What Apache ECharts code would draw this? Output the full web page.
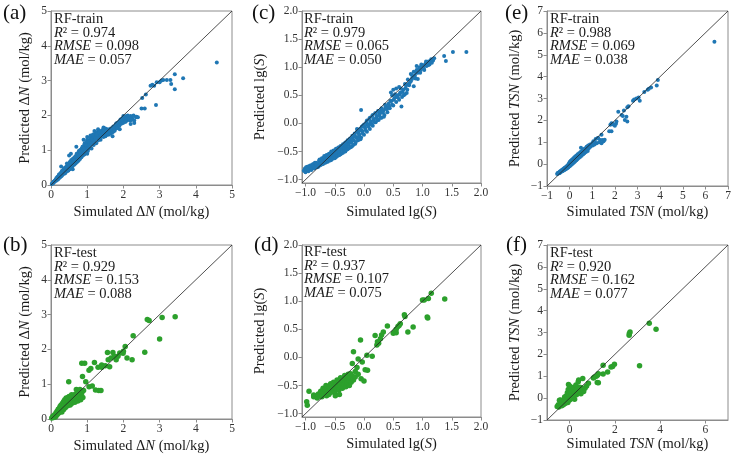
<!DOCTYPE html>
<html>
<head>
<meta charset="utf-8">
<script src="https://cdn.jsdelivr.net/npm/echarts@6/dist/echarts.min.js"></script>
<style>
  html, body { margin: 0; padding: 0; background: #fff; }
  #chart { width: 734px; height: 461px; }
</style>
</head>
<body>
<div id="chart"></div>
<script>
// ---- data (simulated, predicted) ----
const trainDN = [
  [0.02,0.03],[0.04,0.05],[0.06,0.05],[0.07,0.09],[0.08,0.1],[0.1,0.09],[0.11,0.13],[0.12,0.14],[0.14,0.12],[0.15,0.2],[0.16,0.17],[0.17,0.15],
  [0.18,0.24],[0.19,0.2],[0.2,0.18],[0.21,0.23],[0.22,0.26],[0.23,0.2],[0.24,0.28],[0.25,0.3],[0.26,0.23],[0.27,0.31],[0.28,0.35],[0.28,0.53],
  [0.3,0.27],[0.3,0.4],[0.31,0.33],[0.32,0.3],[0.33,0.36],[0.34,0.38],[0.35,0.45],[0.36,0.32],[0.37,0.4],[0.38,0.42],[0.39,0.37],[0.4,0.36],
  [0.4,0.5],[0.41,0.43],[0.42,0.46],[0.43,0.52],[0.44,0.4],[0.45,0.55],[0.46,0.45],[0.47,0.48],[0.48,0.42],[0.49,0.58],[0.5,0.6],[0.5,0.5],
  [0.5,0.85],[0.51,0.47],[0.52,0.45],[0.53,0.63],[0.54,0.56],[0.55,0.68],[0.55,0.9],[0.56,0.52],[0.57,0.5],[0.58,0.62],[0.59,0.58],[0.6,0.55],
  [0.6,0.72],[0.6,0.45],[0.61,0.64],[0.62,0.66],[0.63,0.75],[0.64,0.58],[0.65,0.78],[0.66,0.62],[0.67,0.7],[0.68,0.62],[0.69,0.8],[0.7,0.85],
  [0.7,0.75],[0.7,1.1],[0.71,0.68],[0.72,0.66],[0.73,0.88],[0.74,0.8],[0.75,0.92],[0.76,0.7],[0.77,0.78],[0.78,0.85],[0.79,0.95],[0.8,0.75],
  [0.8,1.0],[0.81,0.82],[0.82,0.9],[0.83,1.02],[0.84,0.8],[0.85,1.05],[0.86,0.88],[0.87,0.95],[0.88,0.85],[0.89,1.08],[0.9,1.12],[0.9,1.0],
  [0.9,1.3],[0.91,0.92],[0.92,0.88],[0.94,1.15],[0.95,1.05],[0.96,1.2],[0.97,0.95],[0.98,1.08],[1.0,1.1],[1.0,1.3],[1.0,1.38],[1.0,0.9],
  [1.02,0.98],[1.03,1.18],[1.05,1.2],[1.06,1.05],[1.07,1.28],[1.08,1.35],[1.1,1.15],[1.11,1.25],[1.12,1.05],[1.14,1.32],[1.15,1.25],[1.15,1.4],
  [1.17,1.2],[1.18,1.15],[1.2,1.3],[1.2,1.55],[1.21,1.4],[1.22,1.48],[1.24,1.35],[1.25,1.2],[1.27,1.38],[1.28,1.52],[1.3,1.5],[1.3,1.28],
  [1.3,1.6],[1.32,1.35],[1.33,1.42],[1.35,1.55],[1.36,1.48],[1.37,1.3],[1.39,1.4],[1.4,1.45],[1.42,1.58],[1.43,1.5],[1.45,1.38],[1.45,1.65],
  [1.47,1.45],[1.48,1.5],[1.5,1.62],[1.5,1.4],[1.52,1.42],[1.54,1.55],[1.55,1.5],[1.57,1.6],[1.58,1.45],[1.6,1.45],[1.61,1.52],[1.62,1.55],
  [1.64,1.48],[1.65,1.62],[1.67,1.56],[1.68,1.5],[1.7,1.58],[1.7,1.4],[1.72,1.68],[1.73,1.55],[1.75,1.6],[1.77,1.65],[1.78,1.7],[1.8,1.62],
  [1.81,1.72],[1.82,1.78],[1.84,1.66],[1.85,1.7],[1.87,1.76],[1.88,1.82],[1.9,1.75],[1.9,1.6],[1.92,1.88],[1.93,1.8],[1.95,1.8],[1.96,1.9],
  [1.98,1.92],[2.0,1.85],[2.0,1.98],[2.02,1.95],[2.04,1.82],[2.05,1.88],[2.07,1.93],[2.08,1.98],[2.1,1.85],[2.12,2.0],[2.13,1.9],[2.15,1.92],
  [2.18,1.85],[2.2,1.98],[2.2,1.75],[2.23,1.95],[2.25,1.9],[2.28,2.0],[2.3,1.85],[2.3,1.78],[2.35,1.95],[2.36,1.96],[2.4,1.95],[2.5,2.2],
  [2.52,2.5],[2.59,2.2],[2.62,2.6],[2.75,2.85],[2.8,2.88],[2.85,2.85],[2.9,2.3],[2.92,2.95],[3.0,2.95],[3.05,3.0],[3.1,3.02],[3.2,3.02],
  [3.3,3.02],[3.32,2.9],[3.42,3.18],[3.42,2.75],[3.65,3.07],[4.58,3.52],
  [0.13,0.16],[0.19,0.16],[0.22,0.3],[0.26,0.34],[0.29,0.26],[0.33,0.42],[0.36,0.48],[0.39,0.34],[0.42,0.52],[0.44,0.62],[0.46,0.41],
  [0.48,0.54],[0.52,0.66],[0.54,0.49],[0.56,0.72],[0.58,0.54],[0.61,0.76],[0.63,0.6],[0.65,0.7],[0.67,0.82],[0.69,0.66],[0.71,0.9],
  [0.73,0.72],[0.75,0.84],[0.77,0.98],[0.79,0.76],[0.81,0.95],[0.83,0.86],[0.85,0.98],[0.87,1.1],[0.89,0.9],[0.91,1.05],[0.93,1.2],
  [0.95,0.98],[0.97,1.15],[0.99,1.25],[1.01,1.05],[1.04,1.25],[1.06,1.15],[1.09,1.42],[1.11,1.2],[1.13,1.3],[1.16,1.45],[1.19,1.25],
  [1.23,1.35],[1.26,1.45],[1.29,1.35],[1.34,1.5],[1.38,1.45],[1.41,1.52],[1.44,1.44],[1.46,1.56],[1.49,1.42],[1.53,1.58],[1.56,1.48],
  [1.59,1.58],[1.63,1.5],[1.66,1.58],[1.69,1.62],[1.71,1.52],[1.74,1.64],[1.76,1.56],[1.79,1.75],[1.83,1.64],[1.86,1.78],[1.89,1.7],
  [1.91,1.84],[1.94,1.76],[1.97,1.86],[1.99,1.78],[2.03,1.9],[2.06,1.82],[2.09,1.92],[2.14,1.97],[2.17,1.9],[2.22,1.87]
];
const testDN = [
  [0.02,0.03],[0.05,0.08],[0.07,0.04],[0.1,0.12],[0.12,0.06],[0.14,0.18],[0.15,0.1],[0.17,0.22],[0.18,0.14],[0.2,0.28],[0.21,0.17],[0.23,0.3],
  [0.24,0.2],[0.25,0.36],[0.27,0.25],[0.28,0.4],[0.3,0.3],[0.3,0.2],[0.32,0.45],[0.33,0.35],[0.35,0.27],[0.35,0.5],[0.37,0.4],[0.38,0.55],
  [0.4,0.33],[0.4,0.48],[0.42,0.6],[0.43,0.42],[0.45,0.55],[0.46,0.38],[0.47,0.62],[0.48,0.5],[0.49,1.07],[0.5,0.45],[0.5,0.65],[0.52,0.56],
  [0.53,0.4],[0.55,0.62],[0.56,0.5],[0.57,0.7],[0.58,0.45],[0.6,0.6],[0.6,0.52],[0.62,0.68],[0.63,0.55],[0.65,0.62],[0.66,0.48],[0.68,0.72],
  [0.7,0.58],[0.7,0.85],[0.72,0.65],[0.74,0.52],[0.75,0.8],[0.77,0.62],[0.8,0.72],[0.8,0.85],[0.82,0.55],[0.85,0.75],[0.85,1.6],[0.87,1.22],
  [0.88,0.62],[0.9,0.82],[0.93,1.6],[0.96,1.07],[1.05,0.93],[1.05,1.4],[1.1,1.45],[1.14,0.95],[1.2,1.62],[1.23,0.83],[1.32,0.82],[1.38,0.82],
  [1.3,1.49],[1.4,1.49],[1.4,1.55],[1.5,1.53],[1.56,1.91],[1.58,1.7],[1.62,1.5],[1.66,1.75],[1.71,1.91],[1.75,1.8],[1.8,1.7],[1.85,1.8],
  [1.9,1.9],[1.99,1.89],[2.0,1.95],[2.05,2.08],[2.1,1.75],[2.24,1.7],[2.27,2.39],[2.59,1.92],[2.66,2.86],[2.71,2.83],[3.0,2.3],[3.07,2.92],
  [3.43,2.94]
];
const trainS = [
  [-1.03,-0.84],[-1.01,-0.8],[-1.0,-0.87],[-0.98,-0.82],[-0.97,-0.77],[-0.95,-0.85],[-0.93,-0.8],[-0.92,-0.75],[-0.9,-0.83],[-0.88,-0.78],
  [-0.87,-0.72],[-0.85,-0.8],[-0.83,-0.75],[-0.82,-0.7],[-0.8,-0.78],[-0.79,-0.72],[-0.77,-0.67],[-0.76,-0.75],[-0.75,-0.7],[-0.74,-0.66],
  [-0.73,-0.64],[-0.72,-0.72],[-0.71,-0.68],[-0.7,-0.67],[-0.69,-0.61],[-0.68,-0.7],[-0.67,-0.63],[-0.66,-0.64],[-0.65,-0.58],[-0.64,-0.68],
  [-0.63,-0.6],[-0.62,-0.62],[-0.61,-0.56],[-0.6,-0.66],[-0.59,-0.61],[-0.58,-0.6],[-0.57,-0.53],[-0.56,-0.65],[-0.55,-0.58],[-0.54,-0.55],
  [-0.53,-0.51],[-0.52,-0.62],[-0.51,-0.57],[-0.5,-0.55],[-0.49,-0.48],[-0.48,-0.6],[-0.47,-0.52],[-0.46,-0.53],[-0.45,-0.45],[-0.44,-0.57],
  [-0.43,-0.49],[-0.42,-0.5],[-0.41,-0.42],[-0.4,-0.55],[-0.39,-0.45],[-0.38,-0.47],[-0.37,-0.4],[-0.36,-0.52],[-0.35,-0.43],[-0.34,-0.44],
  [-0.33,-0.36],[-0.32,-0.5],[-0.31,-0.4],[-0.3,-0.41],[-0.29,-0.33],[-0.28,-0.46],[-0.27,-0.36],[-0.26,-0.38],[-0.25,-0.29],[-0.24,-0.43],
  [-0.23,-0.32],[-0.22,-0.34],[-0.2,-0.25],[-0.2,-0.4],[-0.19,-0.3],[-0.18,-0.3],[-0.16,-0.2],[-0.15,-0.36],[-0.14,-0.24],[-0.13,-0.26],
  [-0.12,-0.15],[-0.1,-0.3],[-0.09,-0.18],[-0.08,-0.2],[-0.07,-0.1],[-0.05,-0.25],[-0.05,0.24],[-0.04,-0.12],[-0.03,-0.14],[-0.02,-0.04],
  [0.0,-0.2],[0.01,-0.06],[0.02,-0.08],[0.04,0.02],[0.05,-0.15],[0.06,-0.03],[0.07,-0.02],[0.09,0.08],[0.1,-0.1],[0.11,0.01],[0.12,0.03],
  [0.14,0.13],[0.15,-0.04],[0.16,0.06],[0.17,0.08],[0.19,0.18],[0.2,0.02],[0.21,0.1],[0.22,0.13],[0.24,0.22],[0.25,0.06],[0.26,0.14],
  [0.27,0.17],[0.3,0.27],[0.3,0.1],[0.32,0.19],[0.33,0.22],[0.35,0.15],[0.36,0.26],[0.37,0.3],[0.4,0.2],[0.41,0.29],[0.42,0.35],[0.44,0.27],
  [0.46,0.55],[0.47,0.4],[0.48,0.33],[0.5,0.32],[0.5,0.6],[0.51,0.42],[0.52,0.45],[0.55,0.38],[0.55,0.62],[0.56,0.47],[0.57,0.5],[0.6,0.42],
  [0.6,0.65],[0.61,0.52],[0.62,0.55],[0.64,0.3],[0.65,0.47],[0.66,0.56],[0.67,0.6],[0.7,0.52],[0.71,0.63],[0.72,0.68],[0.73,0.54],[0.74,0.6],
  [0.75,0.78],[0.76,0.7],[0.77,0.68],[0.8,0.75],[0.8,0.88],[0.82,0.79],[0.83,0.82],[0.85,0.66],[0.85,0.92],[0.87,0.85],[0.89,0.9],[0.9,0.95],
  [0.92,0.79],[0.92,0.9],[0.94,0.97],[0.95,1.0],[0.97,0.95],[1.0,1.03],[1.01,0.99],[1.02,0.98],[1.04,1.04],[1.05,1.06],[1.07,1.02],
  [1.08,1.08],[1.1,1.1],[1.12,1.05],[1.13,1.1],[1.15,1.14],[1.18,1.12],[1.2,1.16],[1.37,1.2],[1.4,1.11],[1.52,1.27],[1.75,1.27],
  [-0.99,-0.78],[-0.96,-0.8],[-0.94,-0.76],[-0.91,-0.79],[-0.89,-0.74],[-0.86,-0.77],[-0.84,-0.7],[-0.81,-0.74],[-0.78,-0.77],[-0.76,-0.64],
  [-0.74,-0.74],[-0.72,-0.62],[-0.7,-0.72],[-0.68,-0.58],[-0.66,-0.7],[-0.64,-0.56],[-0.62,-0.68],[-0.6,-0.54],[-0.58,-0.66],[-0.56,-0.5],
  [-0.54,-0.63],[-0.52,-0.48],[-0.5,-0.62],[-0.48,-0.45],[-0.46,-0.58],[-0.44,-0.43],[-0.42,-0.56],[-0.4,-0.4],[-0.38,-0.53],[-0.36,-0.37],
  [-0.34,-0.5],[-0.32,-0.34],[-0.3,-0.47],[-0.28,-0.3],[-0.26,-0.44],[-0.24,-0.27],[-0.22,-0.42],[-0.2,-0.22],[-0.18,-0.38],[-0.16,-0.18],
  [-0.14,-0.33],[-0.12,-0.1],[-0.1,-0.24],[-0.08,-0.12],[-0.06,-0.28],[-0.04,-0.06],[-0.02,-0.18],[0.0,-0.02],[0.03,-0.12],[0.05,0.05],
  [0.08,-0.06],[0.1,0.1],[0.13,-0.02],[0.15,0.15],[0.18,0.02],[0.2,0.18],[0.23,0.06],[0.25,0.22],[0.28,0.1],[0.3,0.23],[0.34,0.12],
  [0.36,0.33],[0.39,0.25],[0.43,0.3],[0.45,0.4],[0.48,0.5],[0.53,0.52],[0.58,0.46],[0.63,0.62],[0.68,0.5],[0.7,0.7],[0.78,0.72],[0.82,0.86],
  [0.88,0.8],[0.9,1.02],[0.96,0.9],[0.98,1.05],[1.03,0.95],[1.06,1.1],[1.1,1.04],[1.14,1.12],[1.16,1.08]
];
const testS = [
  [-0.98,-0.79],[-0.97,-0.85],[-0.94,-0.6],[-0.86,-0.67],[-0.86,-0.7],[-0.8,-0.72],[-0.78,-0.65],[-0.76,-0.68],[-0.74,-0.6],[-0.72,-0.7],
  [-0.7,-0.62],[-0.7,-0.55],[-0.68,-0.66],[-0.66,-0.58],[-0.65,-0.5],[-0.64,-0.68],[-0.62,-0.6],[-0.6,-0.52],[-0.6,-0.66],[-0.58,-0.56],
  [-0.57,-0.47],[-0.56,-0.62],[-0.55,-0.5],[-0.53,-0.58],[-0.52,-0.44],[-0.5,-0.54],[-0.5,-0.62],[-0.49,-0.68],[-0.48,-0.48],[-0.47,-0.56],
  [-0.46,-0.4],[-0.45,-0.5],[-0.43,-0.58],[-0.42,-0.44],[-0.42,-0.66],[-0.4,-0.52],[-0.4,-0.36],[-0.38,-0.46],[-0.37,-0.55],[-0.36,-0.4],
  [-0.35,-0.48],[-0.33,-0.32],[-0.32,-0.42],[-0.31,-0.52],[-0.3,-0.37],[-0.29,-0.46],[-0.27,-0.3],[-0.26,-0.4],[-0.25,-0.5],[-0.24,-0.34],
  [-0.23,-0.29],[-0.22,-0.44],[-0.2,-0.33],[-0.2,-0.11],[-0.18,0.1],[-0.18,-0.4],[-0.15,-0.35],[-0.15,-0.25],[-0.12,-0.18],[-0.1,-0.03],
  [-0.1,-0.3],[-0.06,0.31],[-0.05,-0.38],[-0.03,-0.08],[0.0,-0.42],[0.02,-0.22],[0.05,0.04],[0.06,-0.23],[0.14,0.02],[0.19,0.39],[0.22,0.22],
  [0.23,0.28],[0.25,0.25],[0.28,0.33],[0.3,0.4],[0.33,0.45],[0.4,0.56],[0.5,0.43],[0.52,0.45],[0.55,0.44],[0.55,0.5],[0.58,0.55],[0.6,0.57],
  [0.62,0.6],[0.69,0.76],[0.7,0.73],[0.75,0.45],[0.84,0.54],[1.0,1.02],[1.03,1.02],[1.08,0.72],[1.09,0.7],[1.1,1.05],[1.15,1.14],[1.38,1.04]
];
const trainTSN = [
  [-0.55,-0.45],[-0.53,-0.42],[-0.52,-0.4],[-0.5,-0.43],[-0.49,-0.4],[-0.48,-0.38],[-0.46,-0.41],[-0.45,-0.4],[-0.44,-0.36],[-0.43,-0.34],
  [-0.41,-0.38],[-0.4,-0.37],[-0.39,-0.33],[-0.38,-0.3],[-0.36,-0.34],[-0.35,-0.33],[-0.34,-0.28],[-0.33,-0.26],[-0.31,-0.31],[-0.3,-0.3],
  [-0.29,-0.25],[-0.28,-0.22],[-0.26,-0.28],[-0.25,-0.27],[-0.24,-0.2],[-0.23,-0.18],[-0.21,-0.25],[-0.2,-0.24],[-0.19,-0.16],[-0.18,-0.14],
  [-0.16,-0.22],[-0.15,-0.2],[-0.14,-0.12],[-0.13,-0.1],[-0.11,-0.19],[-0.1,-0.17],[-0.09,-0.07],[-0.08,-0.05],[-0.06,-0.15],[-0.05,-0.13],
  [-0.04,0.02],[-0.03,0.0],[0.0,-0.1],[0.0,0.1],[0.01,-0.04],[0.02,0.04],[0.04,-0.06],[0.05,0.15],[0.06,0.02],[0.07,0.08],[0.09,-0.02],
  [0.1,0.2],[0.11,0.06],[0.12,0.12],[0.14,0.03],[0.15,0.25],[0.16,0.1],[0.17,0.16],[0.19,0.08],[0.2,0.3],[0.21,0.15],[0.22,0.2],[0.24,0.12],
  [0.25,0.35],[0.26,0.2],[0.27,0.25],[0.3,0.18],[0.3,0.4],[0.31,0.26],[0.32,0.3],[0.35,0.23],[0.36,0.45],[0.37,0.32],[0.38,0.35],[0.4,0.28],
  [0.42,0.5],[0.43,0.37],[0.44,0.4],[0.46,0.33],[0.48,0.55],[0.49,0.42],[0.5,0.45],[0.5,0.75],[0.53,0.38],[0.55,0.6],[0.56,0.48],[0.57,0.5],
  [0.6,0.45],[0.6,0.68],[0.62,0.55],[0.63,0.58],[0.65,0.5],[0.68,0.72],[0.69,0.6],[0.7,0.62],[0.72,0.55],[0.75,0.8],[0.76,0.66],[0.77,0.68],
  [0.8,0.6],[0.82,0.85],[0.84,0.72],[0.85,0.75],[0.9,0.9],[0.92,0.8],[1.0,0.95],[1.02,0.85],[1.05,1.05],[1.1,0.9],[1.12,1.0],[1.15,1.15],
  [1.2,0.95],[1.25,1.2],[1.26,1.19],[1.3,1.0],[1.35,1.1],[1.41,0.96],[1.41,1.34],[1.45,1.1],[1.5,1.05],[1.55,1.11],[1.75,1.5],[1.8,1.8],
  [1.85,1.5],[1.85,1.87],[1.9,1.85],[1.95,1.8],[2.0,1.75],[2.05,1.85],[2.07,1.95],[2.15,2.4],[2.3,2.25],[2.35,2.2],[2.4,2.45],[2.44,2.02],
  [2.51,2.17],[2.55,1.95],[2.55,2.6],[2.6,2.65],[2.8,2.9],[2.85,2.95],[2.95,3.0],[3.05,3.05],[3.1,2.9],[3.3,3.3],[3.45,3.4],[3.5,3.45],
  [3.6,3.5],[3.85,3.6],[3.9,3.85],[6.4,5.6]
];
const testTSN = [
  [-0.55,-0.38],[-0.5,-0.3],[-0.48,-0.4],[-0.45,-0.1],[-0.42,-0.32],[-0.4,-0.08],[-0.38,-0.25],[-0.35,-0.35],[-0.3,-0.2],[-0.28,-0.3],
  [-0.25,-0.1],[-0.22,0.05],[-0.2,-0.25],[-0.18,-0.15],[-0.15,0.1],[-0.12,-0.05],[-0.1,0.25],[-0.08,-0.2],[-0.06,0.4],[-0.05,0.62],
  [-0.04,0.15],[-0.02,-0.1],[0.0,0.55],[0.0,0.3],[0.02,0.05],[0.04,-0.05],[0.05,0.45],[0.07,0.2],[0.1,0.0],[0.12,0.35],[0.15,0.1],
  [0.18,0.5],[0.2,0.2],[0.22,-0.05],[0.25,0.3],[0.28,0.6],[0.3,0.15],[0.32,0.4],[0.35,0.25],[0.38,0.75],[0.4,0.83],[0.42,0.35],[0.45,0.5],
  [0.5,0.2],[0.55,0.46],[0.58,0.9],[0.62,0.3],[0.68,0.45],[0.75,0.55],[0.83,0.68],[1.05,0.92],[1.1,0.97],[1.18,1.0],[1.22,0.72],[1.23,1.05],
  [1.27,1.12],[1.27,0.7],[1.48,1.1],[1.48,1.5],[1.68,1.2],[1.83,1.42],[1.9,1.45],[1.98,1.55],[2.63,2.88],[2.64,2.95],[2.67,3.02],[3.09,1.48],
  [3.52,3.42],[3.82,3.15]
];
// 1:1 reference lines
const diagDN = [[0, 0], [5, 5]];
const diagS = [[-1.06, -1.06], [2, 2]];
const diagTSN = [[-1, -1], [7, 7]];
// tick values
const ticksDN = [0, 1, 2, 3, 4, 5];
const ticksS = [-1, -0.5, 0, 0.5, 1, 1.5, 2];
const ticksTSN = [-1, 0, 1, 2, 3, 4, 5, 6, 7];
const ticksTSNx2 = [0, 2, 4, 6];
// panel texts
const panelLabels = ['(a)', '(b)', '(c)', '(d)', '(e)', '(f)'];
const setNames = ['RF-train', 'RF-test', 'RF-train', 'RF-test', 'RF-train', 'RF-test'];
const r2 = ['0.974', '0.929', '0.979', '0.937', '0.988', '0.920'];
const rmse = ['0.098', '0.153', '0.065', '0.107', '0.069', '0.162'];
const mae = ['0.057', '0.088', '0.050', '0.075', '0.038', '0.077'];

const serif = '"Liberation Serif", "Times New Roman", serif';
const frame = '#8c8c8c';
const blue = '#1f77b4';
const green = '#2ca02c';

const panels = [
  { grid: { left: 51, top: 11, width: 181, height: 174 }, min: 0, max: 5, xt: ticksDN, yt: ticksDN, dec: 0,
    data: trainDN, diag: diagDN, color: blue, size: 4, xn: 'Simulated Δ{i|N} (mol/kg)', yn: 'Predicted Δ{i|N} (mol/kg)',
    xg: 20, yg: 18, lab: [3, 3], txt: [54, 12] },
  { grid: { left: 51, top: 245, width: 181, height: 174 }, min: 0, max: 5, xt: ticksDN, yt: ticksDN, dec: 0,
    data: testDN, diag: diagDN, color: green, size: 5.5, xn: 'Simulated Δ{i|N} (mol/kg)', yn: 'Predicted Δ{i|N} (mol/kg)',
    xg: 20, yg: 18, lab: [3, 235], txt: [54, 246] },
  { grid: { left: 302, top: 11, width: 179, height: 172 }, min: -1.06, max: 2, xt: ticksS, yt: ticksS, dec: 1,
    data: trainS, diag: diagS, color: blue, size: 4, xn: 'Simulated lg({i|S})', yn: 'Predicted lg({i|S})',
    xg: 22, yg: 34, lab: [252, 3], txt: [304, 12] },
  { grid: { left: 302, top: 245, width: 179, height: 172 }, min: -1.06, max: 2, xt: ticksS, yt: ticksS, dec: 1,
    data: testS, diag: diagS, color: green, size: 5.5, xn: 'Simulated lg({i|S})', yn: 'Predicted lg({i|S})',
    xg: 20, yg: 34, lab: [254, 235], txt: [304, 245] },
  { grid: { left: 547, top: 11, width: 181, height: 175 }, min: -1, max: 7, xt: ticksTSN, yt: ticksTSN, dec: 0,
    data: trainTSN, diag: diagTSN, color: blue, size: 4, xn: 'Simulated {i|TSN} (mol/kg)', yn: 'Predicted {i|TSN} (mol/kg)',
    xg: 19, yg: 24, lab: [505, 3], txt: [550, 12] },
  { grid: { left: 547, top: 245, width: 181, height: 175 }, min: -1, max: 7, xt: ticksTSNx2, yt: ticksTSN, dec: 0,
    data: testTSN, diag: diagTSN, color: green, size: 5.5, xn: 'Simulated {i|TSN} (mol/kg)', yn: 'Predicted {i|TSN} (mol/kg)',
    xg: 17, yg: 24, lab: [506, 235], txt: [550, 246] }
];

function fmt(v, dec) {
  const s = Math.abs(v).toFixed(dec);
  return v < 0 ? '\u2212' + s : s;
}

const nameStyle = {
  fontFamily: serif, fontSize: 14.5, color: '#1a1a1a',
  rich: { i: { fontFamily: serif, fontSize: 14.5, fontStyle: 'italic', color: '#1a1a1a' } }
};

function axis(idx, p, ticks, name, gap) {
  return {
    type: 'value', gridIndex: idx, min: p.min, max: p.max,
    name: name, nameLocation: 'middle', nameGap: gap, nameTextStyle: nameStyle,
    axisLine: { show: true, onZero: false, lineStyle: { color: frame, width: 1 } },
    axisTick: { show: true, length: 3.5, customValues: ticks, lineStyle: { color: frame } },
    axisLabel: { customValues: ticks, fontFamily: serif, fontSize: 11.5, color: '#333', margin: 4,
      formatter: (v) => fmt(v, p.dec) },
    splitLine: { show: false }
  };
}

const txtRich = {
  n: { fontFamily: serif, fontSize: 14.5, color: '#1a1a1a', lineHeight: 13.8 },
  i: { fontFamily: serif, fontSize: 14.5, fontStyle: 'italic', color: '#1a1a1a', lineHeight: 13.8 }
};

const option = {
  animation: false,
  backgroundColor: '#fff',
  grid: panels.map((p) => Object.assign({ show: true, borderColor: frame, borderWidth: 1, outerBoundsMode: 'none' }, p.grid)),
  xAxis: panels.map((p, i) => axis(i, p, p.xt, p.xn, p.xg)),
  yAxis: panels.map((p, i) => axis(i, p, p.yt, p.yn, p.yg)),
  title: [].concat(
    panels.map((p, i) => ({
      text: panelLabels[i], left: p.lab[0], top: p.lab[1], padding: 0,
      textStyle: { fontFamily: serif, fontSize: 21, fontWeight: 'normal', color: '#111' }
    })),
    panels.map((p, i) => ({
      text: '{n|' + setNames[i] + '}\n{i|R}{n|\u00b2 = ' + r2[i] + '}\n{i|RMSE}{n| = ' + rmse[i] + '}\n{i|MAE}{n| = ' + mae[i] + '}',
      left: p.txt[0], top: p.txt[1], padding: 0,
      textStyle: { fontFamily: serif, fontSize: 14.5, fontWeight: 'normal', color: '#1a1a1a', lineHeight: 13.8, rich: txtRich }
    }))
  ),
  series: [].concat(
    panels.map((p, i) => ({
      type: 'scatter', xAxisIndex: i, yAxisIndex: i, data: p.data,
      symbol: 'circle', symbolSize: p.size, itemStyle: { color: p.color, opacity: 1 }, z: 2
    })),
    panels.map((p, i) => ({
      type: 'line', xAxisIndex: i, yAxisIndex: i, data: p.diag, symbol: 'none', silent: true,
      lineStyle: { color: '#222', width: 0.8 }, z: 3
    }))
  )
};

const myChart = echarts.init(document.getElementById('chart'));
myChart.setOption(option);
</script>
</body>
</html>
